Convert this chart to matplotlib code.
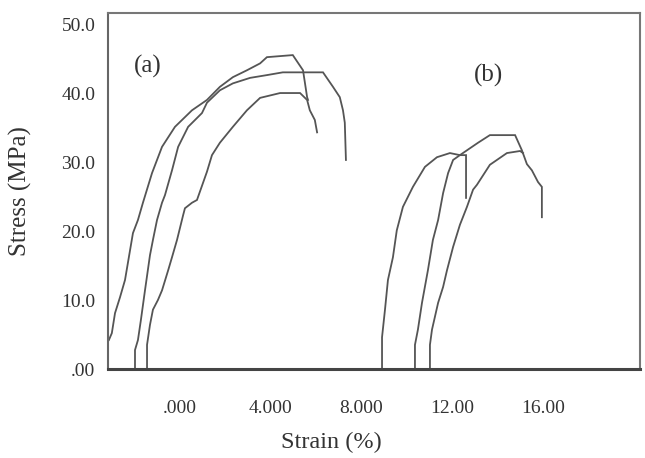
import matplotlib
matplotlib.use("Agg")
import matplotlib.pyplot as plt

# ---- data (strain %, stress MPa) ----
a1_x = [-3.13, -3.00, -2.86, -2.64, -2.42, -2.07, -1.85, -1.63, -1.23, -0.79, -0.22,
        0.53, 1.19, 1.76, 2.33, 2.95, 3.53, 3.83, 4.97, 5.42, 5.60, 5.64]
a1_y = [4.2, 5.2, 8.1, 10.4, 12.9, 19.7, 21.6, 24.1, 28.4, 32.2, 35.1,
        37.5, 39.0, 40.9, 42.3, 43.3, 44.3, 45.2, 45.5, 43.3, 39.4, 39.0]

a2_x = [-1.98, -1.98, -1.85, -1.72, -1.54, -1.32, -1.19, -1.01, -0.79, -0.66, -0.35,
        -0.08, 0.36, 0.97, 1.19, 1.76, 2.33, 3.09, 3.83, 4.53, 6.30, 6.74, 7.04,
        7.18, 7.26, 7.31]
a2_y = [0.0, 2.75, 4.2, 7.1, 11.4, 16.5, 18.7, 21.6, 24.1, 25.2, 28.8,
        32.2, 35.1, 37.1, 38.6, 40.4, 41.4, 42.2, 42.6, 43.0, 43.0, 40.9, 39.4,
        37.5, 35.7, 30.3]

a3_x = [-1.45, -1.45, -1.32, -1.19, -0.97, -0.79, -0.52, -0.35, -0.13, 0.14, 0.22,
        0.53, 0.75, 1.19, 1.41, 1.76, 2.33, 2.95, 3.53, 4.41, 5.29, 5.60, 5.72,
        5.94, 6.04]
a3_y = [0.0, 3.5, 6.4, 8.6, 10.0, 11.4, 14.3, 16.2, 18.7, 22.3, 23.3,
        24.1, 24.5, 28.6, 31.0, 32.8, 35.1, 37.5, 39.3, 40.0, 40.0, 39.0, 37.5,
        36.1, 34.3]

b1_x = [8.90, 8.90, 9.03, 9.16, 9.38, 9.55, 9.82, 10.26, 10.79, 11.32, 11.89,
        12.33, 12.60, 12.60]
b1_y = [0.0, 4.6, 8.6, 12.9, 16.2, 20.1, 23.5, 26.4, 29.3, 30.7, 31.3,
        31.0, 31.0, 24.8]

b2_x = [10.35, 10.35, 10.48, 10.66, 10.92, 11.14, 11.37, 11.59, 11.81, 12.03, 12.33,
        12.64, 13.13, 13.65, 14.76, 15.06, 15.28, 15.50, 15.77, 15.94, 15.94]
b2_y = [0.0, 3.5, 5.7, 9.6, 14.3, 18.7, 21.6, 25.5, 28.4, 30.3, 31.0,
        31.7, 32.8, 33.9, 33.9, 31.7, 29.7, 28.8, 27.1, 26.4, 22.0]

b3_x = [11.01, 11.01, 11.10, 11.37, 11.59, 11.76, 12.03, 12.33, 12.64, 12.91, 13.08,
        13.65, 14.40, 14.98, 15.11]
b3_y = [0.0, 3.5, 5.7, 9.6, 11.9, 14.3, 17.7, 20.9, 23.5, 26.0, 26.7,
        29.6, 31.3, 31.6, 31.3]

x_ticks = [0, 4, 8, 12, 16]
x_tick_labels = [".000", "4.000", "8.000", "12.00", "16.00"]
y_ticks = [0, 10, 20, 30, 40, 50]
y_tick_labels = [".00", "10.0", "20.0", "30.0", "40.0", "50.0"]

plt.rcParams['font.family'] = ['Liberation Serif', 'DejaVu Serif']

fig = plt.figure(figsize=(6.45, 4.58), dpi=100)
ax = fig.add_axes([0.1674, 0.1943, 0.8248, 0.7773])

lc = '#555555'
for xs, ys in [(a1_x, a1_y), (a2_x, a2_y), (a3_x, a3_y),
               (b1_x, b1_y), (b2_x, b2_y), (b3_x, b3_y)]:
    ax.plot(xs, ys, color=lc, lw=1.3, solid_joinstyle='miter')

ax.set_xlim(-3.17, 20.26)
ax.set_ylim(0, 51.6)
ax.set_xticks(x_ticks)
ax.set_xticklabels(x_tick_labels)
ax.set_yticks(y_ticks)
ax.set_yticklabels(y_tick_labels)
ax.tick_params(axis='both', length=0, labelsize=14, colors='#333333')
ax.tick_params(axis='x', pad=22)
ax.tick_params(axis='y', pad=9)

for side in ['top', 'right']:
    ax.spines[side].set_color('#777777')
    ax.spines[side].set_linewidth(1.5)
ax.spines['left'].set_color('#666666')
ax.spines['left'].set_linewidth(1.5)
ax.spines['bottom'].set_color('#444444')
ax.spines['bottom'].set_linewidth(2.2)

ax.set_xlabel("Strain (%)", fontsize=17.5, color='#333333', va='center')
ax.xaxis.set_label_coords(0.419, -0.205)
ax.set_ylabel("Stress (MPa)", fontsize=18, color='#333333', va='center')
ax.yaxis.set_label_coords(-0.165, 0.5)

ax.text(-1.41, 43.8, "(a)", fontsize=18, color='#333333', ha='center', va='center')
ax.text(13.61, 42.6, "(b)", fontsize=18, color='#333333', ha='center', va='center')

fig.savefig("out.png", dpi=100)
